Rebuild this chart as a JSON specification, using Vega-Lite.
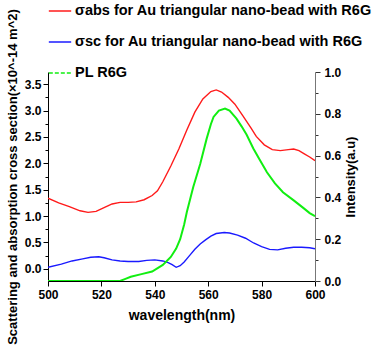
{
  "$schema": "https://vega.github.io/schema/vega-lite/v6.json",
  "width": 267,
  "height": 209,
  "autosize": "none",
  "padding": {"left": 48, "top": 72, "right": 71, "bottom": 66},
  "background": "white",
  "config": {
    "view": {"stroke": null},
    "font": "Liberation Sans",
    "axis": {
      "labelFont": "Liberation Sans",
      "labelFontWeight": "bold",
      "labelColor": "black",
      "titleFont": "Liberation Sans",
      "titleFontWeight": "bold",
      "titleColor": "black",
      "grid": false,
      "domainColor": "black",
      "tickColor": "black"
    }
  },
  "data": {
    "values": [
      {"w": 500, "v": 1.34, "s": "abs"}, {"w": 504, "v": 1.25, "s": "abs"}, {"w": 508, "v": 1.18, "s": "abs"},
      {"w": 512, "v": 1.10, "s": "abs"}, {"w": 515, "v": 1.07, "s": "abs"}, {"w": 518, "v": 1.09, "s": "abs"},
      {"w": 521, "v": 1.16, "s": "abs"}, {"w": 524, "v": 1.23, "s": "abs"}, {"w": 527, "v": 1.26, "s": "abs"},
      {"w": 530, "v": 1.26, "s": "abs"}, {"w": 533, "v": 1.27, "s": "abs"}, {"w": 536, "v": 1.31, "s": "abs"},
      {"w": 539, "v": 1.39, "s": "abs"}, {"w": 541, "v": 1.48, "s": "abs"}, {"w": 543, "v": 1.65, "s": "abs"},
      {"w": 546, "v": 1.95, "s": "abs"}, {"w": 549, "v": 2.27, "s": "abs"}, {"w": 552, "v": 2.63, "s": "abs"},
      {"w": 555, "v": 2.97, "s": "abs"}, {"w": 558, "v": 3.22, "s": "abs"}, {"w": 561, "v": 3.36, "s": "abs"},
      {"w": 563, "v": 3.39, "s": "abs"}, {"w": 565, "v": 3.35, "s": "abs"}, {"w": 567.5, "v": 3.25, "s": "abs"},
      {"w": 570, "v": 3.12, "s": "abs"}, {"w": 573, "v": 2.90, "s": "abs"}, {"w": 576, "v": 2.67, "s": "abs"},
      {"w": 578, "v": 2.51, "s": "abs"}, {"w": 581, "v": 2.35, "s": "abs"}, {"w": 584, "v": 2.26, "s": "abs"},
      {"w": 587, "v": 2.24, "s": "abs"}, {"w": 590, "v": 2.26, "s": "abs"}, {"w": 592, "v": 2.27, "s": "abs"},
      {"w": 594, "v": 2.24, "s": "abs"}, {"w": 596, "v": 2.18, "s": "abs"}, {"w": 598, "v": 2.12, "s": "abs"},
      {"w": 600, "v": 2.05, "s": "abs"},
      {"w": 500, "v": 0.03, "s": "sc"}, {"w": 505, "v": 0.09, "s": "sc"}, {"w": 509, "v": 0.15, "s": "sc"},
      {"w": 513, "v": 0.19, "s": "sc"}, {"w": 516, "v": 0.22, "s": "sc"}, {"w": 519, "v": 0.23, "s": "sc"},
      {"w": 521, "v": 0.21, "s": "sc"}, {"w": 524, "v": 0.17, "s": "sc"}, {"w": 527, "v": 0.15, "s": "sc"},
      {"w": 530, "v": 0.14, "s": "sc"}, {"w": 534, "v": 0.14, "s": "sc"}, {"w": 537, "v": 0.16, "s": "sc"},
      {"w": 540, "v": 0.17, "s": "sc"}, {"w": 543, "v": 0.15, "s": "sc"}, {"w": 545, "v": 0.12, "s": "sc"},
      {"w": 546.5, "v": 0.08, "s": "sc"}, {"w": 548, "v": 0.03, "s": "sc"}, {"w": 549.5, "v": 0.06, "s": "sc"},
      {"w": 551, "v": 0.13, "s": "sc"}, {"w": 553, "v": 0.25, "s": "sc"}, {"w": 555, "v": 0.37, "s": "sc"},
      {"w": 557, "v": 0.47, "s": "sc"}, {"w": 559, "v": 0.55, "s": "sc"}, {"w": 561, "v": 0.62, "s": "sc"},
      {"w": 563, "v": 0.67, "s": "sc"}, {"w": 566, "v": 0.69, "s": "sc"}, {"w": 568, "v": 0.68, "s": "sc"},
      {"w": 571, "v": 0.64, "s": "sc"}, {"w": 574, "v": 0.58, "s": "sc"}, {"w": 577, "v": 0.49, "s": "sc"},
      {"w": 580, "v": 0.42, "s": "sc"}, {"w": 583, "v": 0.37, "s": "sc"}, {"w": 586, "v": 0.36, "s": "sc"},
      {"w": 589, "v": 0.39, "s": "sc"}, {"w": 592, "v": 0.41, "s": "sc"}, {"w": 595, "v": 0.41, "s": "sc"},
      {"w": 598, "v": 0.40, "s": "sc"}, {"w": 600, "v": 0.38, "s": "sc"},
      {"w": 500, "v": 0, "s": "pl"}, {"w": 510, "v": 0, "s": "pl"}, {"w": 520, "v": 0, "s": "pl"},
      {"w": 527, "v": 0, "s": "pl"}, {"w": 529, "v": 0.01, "s": "pl"}, {"w": 531, "v": 0.02, "s": "pl"},
      {"w": 535, "v": 0.033, "s": "pl"}, {"w": 539, "v": 0.045, "s": "pl"}, {"w": 543, "v": 0.077, "s": "pl"},
      {"w": 546, "v": 0.115, "s": "pl"}, {"w": 548, "v": 0.155, "s": "pl"}, {"w": 549.5, "v": 0.2, "s": "pl"},
      {"w": 551, "v": 0.27, "s": "pl"}, {"w": 552, "v": 0.33, "s": "pl"}, {"w": 554.4, "v": 0.45, "s": "pl"},
      {"w": 557, "v": 0.56, "s": "pl"}, {"w": 559.4, "v": 0.68, "s": "pl"}, {"w": 561, "v": 0.75, "s": "pl"},
      {"w": 562, "v": 0.785, "s": "pl"}, {"w": 564, "v": 0.815, "s": "pl"}, {"w": 566.3, "v": 0.825, "s": "pl"},
      {"w": 568, "v": 0.815, "s": "pl"}, {"w": 570.6, "v": 0.777, "s": "pl"}, {"w": 572.5, "v": 0.74, "s": "pl"},
      {"w": 574.4, "v": 0.70, "s": "pl"}, {"w": 576.9, "v": 0.634, "s": "pl"}, {"w": 579.4, "v": 0.578, "s": "pl"},
      {"w": 582, "v": 0.52, "s": "pl"}, {"w": 585, "v": 0.467, "s": "pl"}, {"w": 588, "v": 0.425, "s": "pl"},
      {"w": 591.9, "v": 0.387, "s": "pl"}, {"w": 595.6, "v": 0.35, "s": "pl"}, {"w": 598, "v": 0.325, "s": "pl"},
      {"w": 600, "v": 0.31, "s": "pl"}
    ]
  },
  "layer": [
    {
      "transform": [{"filter": "datum.s !== 'pl'"}],
      "mark": {"type": "line", "strokeWidth": 1.4, "clip": true},
      "encoding": {
        "x": {
          "field": "w", "type": "quantitative",
          "scale": {"domain": [500, 600], "nice": false},
          "axis": {
            "title": "wavelength(nm)",
            "titleFontSize": 14,
            "titlePadding": 8,
            "values": [500, 510, 520, 530, 540, 550, 560, 570, 580, 590, 600],
            "labelExpr": "datum.value % 20 === 0 ? datum.label : ''",
            "labelFontSize": 12,
            "labelPadding": 3,
            "tickSize": {"condition": {"test": "datum.value % 20 === 0", "value": 5}, "value": 3},
            "labelFlush": false,
            "labelOverlap": false
          }
        },
        "y": {
          "field": "v", "type": "quantitative",
          "scale": {"domain": [-0.23, 3.73], "nice": false, "zero": false},
          "axis": {
            "title": "Scattering and absorption cross section(×10^-14 m^2)",
            "titleFontSize": 13,
            "titlePadding": 5,
            "values": [0, 0.25, 0.5, 0.75, 1, 1.25, 1.5, 1.75, 2, 2.25, 2.5, 2.75, 3, 3.25, 3.5],
            "labelExpr": "(datum.value * 2) % 1 === 0 ? format(datum.value, '.1f') : ''",
            "labelFontSize": 12,
            "labelPadding": 2,
            "tickSize": {"condition": {"test": "(datum.value * 2) % 1 === 0", "value": 5}, "value": 3},
            "labelOverlap": false
          }
        },
        "color": {
          "field": "s", "type": "nominal",
          "scale": {"domain": ["abs", "sc", "pl"], "range": ["#ff1a1a", "#1a1aff", "#11ee11"]},
          "legend": {
            "orient": "none",
            "legendX": 0,
            "legendY": -73,
            "title": null,
            "padding": 0,
            "symbolType": "stroke",
            "symbolSize": 500,
            "symbolStrokeWidth": 1.5,
            "labelFont": "Liberation Sans",
            "labelFontSize": 14.5,
            "labelFontWeight": "bold",
            "labelColor": "black",
            "labelLimit": 400,
            "labelOffset": 3,
            "rowPadding": 12,
            "labelExpr": "datum.value === 'abs' ? 'σabs  for Au triangular nano-bead with R6G' : datum.value === 'sc' ? 'σsc  for Au triangular nano-bead with R6G' : 'PL R6G'",
            "encode": {
              "symbols": {
                "update": {
                  "strokeDash": {"signal": "datum.value === 'pl' ? [4, 2] : [1, 0]"}
                }
              }
            }
          }
        }
      }
    },
    {
      "transform": [{"filter": "datum.s === 'pl'"}],
      "mark": {"type": "line", "strokeWidth": 2, "clip": true},
      "encoding": {
        "x": {"field": "w", "type": "quantitative"},
        "y": {
          "field": "v", "type": "quantitative",
          "scale": {"domain": [0, 1], "nice": false},
          "axis": {
            "orient": "right",
            "title": "Intensity(a.u)",
            "titleAngle": 270,
            "titleFontSize": 13,
            "titlePadding": 17,
            "values": [0, 0.1, 0.2, 0.3, 0.4, 0.5, 0.6, 0.7, 0.8, 0.9, 1.0],
            "labelExpr": "round(datum.value * 10) % 2 === 0 ? format(datum.value, '.1f') : ''",
            "labelFontSize": 12,
            "labelPadding": 4,
            "domainColor": "#777777",
            "tickColor": "#333333",
            "tickSize": {"condition": {"test": "round(datum.value * 10) % 2 === 0", "value": 5}, "value": 3},
            "labelOverlap": false
          }
        },
        "color": {"field": "s", "type": "nominal"}
      }
    }
  ],
  "resolve": {"scale": {"y": "independent"}}
}
